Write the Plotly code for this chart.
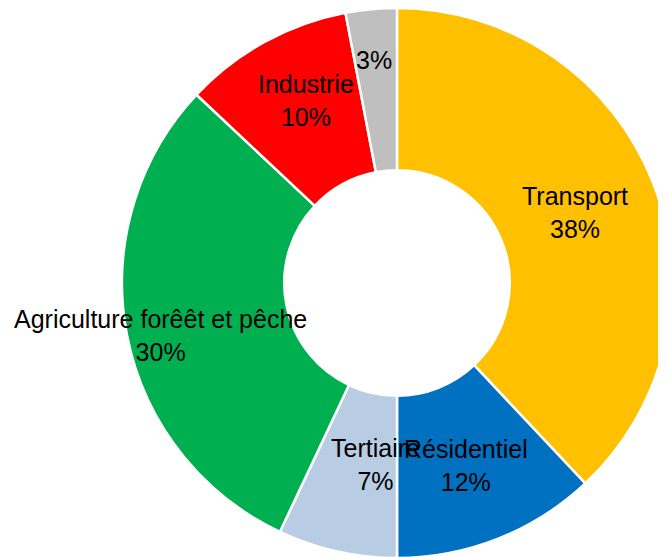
import math
import plotly.graph_objects as go

# données
secteurs = ["Transport", "Résidentiel", "Tertiaire", "Agriculture forêêt et pêche", "Industrie", "Autres"]
parts = [38, 12, 7, 30, 10, 3]
couleurs = ["#FFC000", "#0070C0", "#B8CCE4", "#00B050", "#FF0000", "#BFBFBF"]
afficher_nom = [True, True, True, True, True, False]

# placement des étiquettes (style) : rayon relatif et décalage angulaire en degrés
rayon_etiq = [0.695, 0.708, 0.665, 0.882, 0.742, 0.815]
decal_etiq = [0, 0.8, -5.7, -1.6, 2.4, -0.5]

W, H = 680, 566
ML, MT = 114, 0   # la page ajoute ~8 px de marge
R = 275  # rayon en pixels

fig = go.Figure()
fig.add_trace(go.Pie(
    labels=secteurs,
    values=parts,
    sort=False,
    direction="clockwise",
    rotation=0,
    hole=0.41,
    marker=dict(colors=couleurs, line=dict(color="white", width=2.5)),
    textinfo="none",
    hoverinfo="label+percent",
    showlegend=False,
))

# étiquettes placées au milieu de chaque secteur
total = sum(parts)
cumul = 0
for nom, v, show, rr, da in zip(secteurs, parts, afficher_nom, rayon_etiq, decal_etiq):
    mid = (cumul + v / 2) / total * 2 * math.pi + math.radians(da)
    cumul += v
    dx = rr * math.sin(mid) / 2
    dy = rr * math.cos(mid) / 2
    txt = f"{nom}<br>{v}%" if show else f"{v}%"
    fig.add_annotation(
        x=0.5 + dx, y=0.5 + dy, xref="paper", yref="paper",
        text=txt, showarrow=False, align="center",
        xanchor="center", yanchor="middle",
        font=dict(size=25, color="black"),
    )

fig.update_layout(
    width=W, height=H,
    margin=dict(l=ML, r=W - ML - 2 * R, t=MT, b=H - MT - 2 * R),
    paper_bgcolor="white",
    plot_bgcolor="white",
    font=dict(family="Liberation Sans, Arial, sans-serif"),
)

fig.write_html("out.html")
